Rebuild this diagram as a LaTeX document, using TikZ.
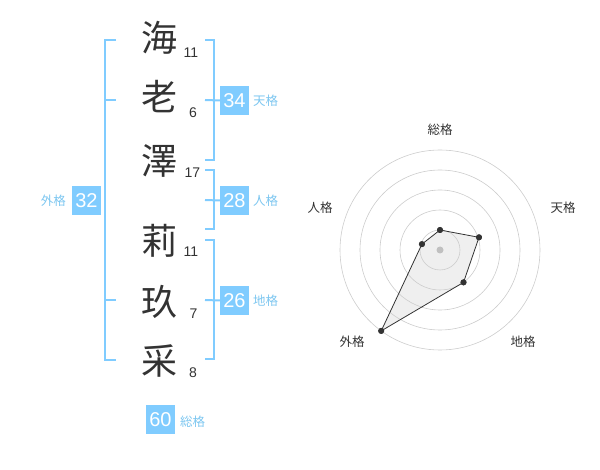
\documentclass[tikz,border=0pt]{standalone}
\usepackage{fontspec}
\setmainfont{Liberation Sans}
\newfontfamily\cjk{Noto Sans CJK JP}
\definecolor{kakublue}{HTML}{80CCFF}
\definecolor{kakutext}{HTML}{7CC6F0}
\definecolor{ink}{HTML}{333333}
\definecolor{ringgray}{HTML}{CCCCCC}
\tikzset{
  kanji/.style={text=ink,font=\cjk\fontsize{36}{36}\selectfont,inner sep=0pt},
  strokes/.style={text=ink,font=\fontsize{14}{14}\selectfont,inner sep=0pt},
  kakubox/.style={fill=kakublue,text=white,font=\fontsize{20}{20}\selectfont,minimum size=29pt,inner sep=0pt},
  kakuname/.style={text=kakutext,font=\cjk\fontsize{12.5}{12.5}\selectfont,inner sep=0pt},
  bracket/.style={kakublue,line width=2pt},
  ring/.style={ringgray,line width=0.6pt},
  dot/.style={circle,fill=ink,inner sep=0pt,minimum size=6pt},
  axisname/.style={text=ink,font=\cjk\fontsize{12.5}{12.5}\selectfont,inner sep=0pt}
}
\begin{document}
\begin{tikzpicture}[x=1pt,y=-1pt]
			\useasboundingbox (0,0) rectangle (600,470);
			% name
			\node[kanji](k1) at (159,37.5){海};
			\node[kanji](k2) at (159,97){老};
			\node[kanji](k3) at (159,160.5){澤};
			\node[kanji](k4) at (159,240.5){莉};
			\node[kanji](k5) at (159,301.5){玖};
			\node[kanji](k6) at (159,360.5){采};
			\node[strokes](s1) at (191,53){11};
			\node[strokes](s2) at (193,113){6};
			\node[strokes](s3) at (192.5,172.5){17};
			\node[strokes](s4) at (191,252){11};
			\node[strokes](s5) at (193.5,314){7};
			\node[strokes](s6) at (193,373){8};
			% boxes
			\node[kakubox](ten) at (234.5,100.5){34};
			\node[kakubox](jin) at (234.5,200.5){28};
			\node[kakubox](chi) at (234.5,300.5){26};
			\node[kakubox](gai) at (86.5,200.5){32};
			\node[kakubox](sou) at (160.5,419.5){60};
			\node[kakuname,anchor=west](tenN) at (253,101){天格};
			\node[kakuname,anchor=west](jinN) at (253,201){人格};
			\node[kakuname,anchor=west](chiN) at (253,301){地格};
			\node[kakuname,anchor=east](gaiN) at (66,201){外格};
			\node[kakuname,anchor=west](souN) at (180,422){総格};
			% brackets
			\draw[bracket] (116,40)--(105,40)--(105,360)--(116,360);
			\draw[bracket] (105,100)--(116,100);
			\draw[bracket] (105,300)--(116,300);
			\draw[bracket] (205,40)--(214,40)--(214,160)--(205,160);
			\draw[bracket] (205,100)--(ten.west);
			\draw[bracket] (205,170)--(214,170)--(214,229)--(205,229);
			\draw[bracket] (205,200)--(jin.west);
			\draw[bracket] (205,240)--(214,240)--(214,359)--(205,359);
			\draw[bracket] (205,300)--(chi.west);
			% radar
			\begin{scope}[shift={(440,250)}]
				\node[circle,fill=ringgray,inner sep=0pt,minimum size=7pt](c) at (0,0){};
				\node[dot](p1) at (90:20pt){};
				\node[dot](p2) at (18:41pt){};
				\node[dot](p3) at (-54:40pt){};
				\node[dot](p4) at (-126:100pt){};
				\node[dot](p5) at (162:19pt){};
				\fill[ink,fill opacity=0.08] (p1.center)--(p2.center)--(p3.center)--(p4.center)--(p5.center)--cycle;
				\foreach \r in {20,40,60,80,100}
					\draw[ring] (c.center) circle[radius=\r pt];
				\draw[ink,line width=0.8pt] (p1.center)--(p2.center)--(p3.center)--(p4.center)--(p5.center)--cycle;
				\node[dot] at (p1){};
				\node[dot] at (p2){};
				\node[dot] at (p3){};
				\node[dot] at (p4){};
				\node[dot] at (p5){};
			\end{scope}
			\node[axisname](a1) at (440,130){総格};
			\node[axisname](a2) at (563,208){天格};
			\node[axisname](a3) at (523,342){地格};
			\node[axisname](a4) at (352,342){外格};
			\node[axisname](a5) at (320,208){人格};
		\end{tikzpicture}
\end{document}
